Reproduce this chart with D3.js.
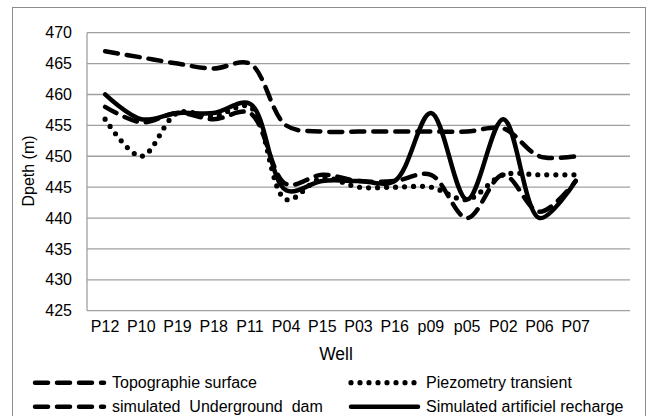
<!DOCTYPE html>
<html><head><meta charset="utf-8">
<script src="https://cdn.jsdelivr.net/npm/d3@7"></script>
<style>body{margin:0;background:#fff}svg{display:block}text{font-family:"Liberation Sans",Arial,sans-serif;fill:#000}</style>
</head><body><svg id="c" width="650" height="416"></svg>
<script>
const wells = ["P12","P10","P19","P18","P11","P04","P15","P03","P16","p09","p05","P02","P06","P07"];
const topo  = [467,466,465,464.2,465,455,454,454,454,454,454,454.5,450,450];
const piezo = [456,450,457,456.5,458,443,446.5,445,445,445,443,447,447,447];
const dam   = [458,455.5,457,456,457,445.5,447,446,446,447,440,447,441,446];
const recharge = [460,456,457,457,458.5,444.5,446,446,446,457,443,456,440,446];
const yTicks = [425,430,435,440,445,450,455,460,465,470];
const seriesNames = ["Topographie surface","Piezometry transient","simulated  Underground  dam","Simulated artificiel recharge"];

const svg = d3.select("#c");
svg.append("rect").attr("x",12.5).attr("y",7.5).attr("width",633).attr("height",420)
  .attr("fill","#fff").attr("stroke","#8c8c8c").attr("stroke-width",1);

const L=87, R=630, T=32.7, B=310.7;
const x = d3.scaleBand().domain([...wells, ""]).range([L,R]).padding(0);
const y = d3.scaleLinear().domain([425,470]).range([B,T]);

const g = svg.append("g");
g.selectAll("line.grid").data(yTicks).join("line")
  .attr("x1",L).attr("x2",R).attr("y1",d=>y(d)).attr("y2",d=>y(d))
  .attr("stroke","#a0a0a0").attr("stroke-width",1.3);
g.append("line").attr("x1",L).attr("x2",L).attr("y1",T).attr("y2",B)
  .attr("stroke","#a0a0a0").attr("stroke-width",1.3);

const yAxis = d3.axisLeft(y).tickValues(yTicks).tickSize(0).tickPadding(15);
const ya = svg.append("g").attr("transform",`translate(${L},0)`).call(yAxis);
ya.select(".domain").remove();
ya.selectAll("text").style("font-size","16px").attr("font-family","Liberation Sans, Arial, sans-serif").attr("fill","#000");

const xAxis = d3.axisBottom(x).tickSize(0).tickPadding(10);
const xa = svg.append("g").attr("transform",`translate(0,${B})`).call(xAxis);
xa.select(".domain").remove();
xa.selectAll("text").style("font-size","16px").attr("font-family","Liberation Sans, Arial, sans-serif").attr("fill","#000");

svg.append("text").attr("x",336).attr("y",360).attr("text-anchor","middle").style("font-size","17.5px").text("Well");
svg.append("text").attr("transform","translate(34,171) rotate(-90)").attr("text-anchor","middle").style("font-size","16px").text("Dpeth (m)");

const cx = i => x(wells[i]) + x.bandwidth()/2;
const line = d3.line().x((d,i)=>cx(i)).y(d=>y(d)).curve(d3.curveCatmullRom.alpha(0.5));

const styles = [
  {data:topo, dash:"13,9", w:4.5},
  {data:piezo, dash:"0,9", w:5.2},
  {data:dam, dash:"13,9", w:4.5},
  {data:recharge, dash:null, w:4.5}
];
const order=[0,2,1,3];
order.forEach(k=>{
  const s=styles[k];
  const p=svg.append("path").attr("d",line(s.data)).attr("fill","none").attr("stroke","#000")
    .attr("stroke-width",s.w).attr("stroke-linecap","round").attr("stroke-linejoin","round");
  if(s.dash) p.attr("stroke-dasharray",s.dash);
});

// legend
const leg = [
  {k:0, x1:35, x2:104, ty:388, ly:382.7, tx:112},
  {k:1, x1:351, x2:418, ty:388, ly:382.7, tx:426},
  {k:2, x1:35, x2:104, ty:412, ly:406.7, tx:112},
  {k:3, x1:351, x2:418, ty:412, ly:406.7, tx:426}
];
leg.forEach(o=>{
  const s=styles[o.k];
  const p=svg.append("line").attr("x1",o.x1).attr("x2",o.x2).attr("y1",o.ly).attr("y2",o.ly)
    .attr("stroke","#000").attr("stroke-width",s.w).attr("stroke-linecap","round");
  if(s.dash) p.attr("stroke-dasharray",s.dash);
  svg.append("text").attr("x",o.tx).attr("y",o.ty).style("font-size","16px").style("white-space","pre").text(seriesNames[o.k]);
});
</script></body></html>
